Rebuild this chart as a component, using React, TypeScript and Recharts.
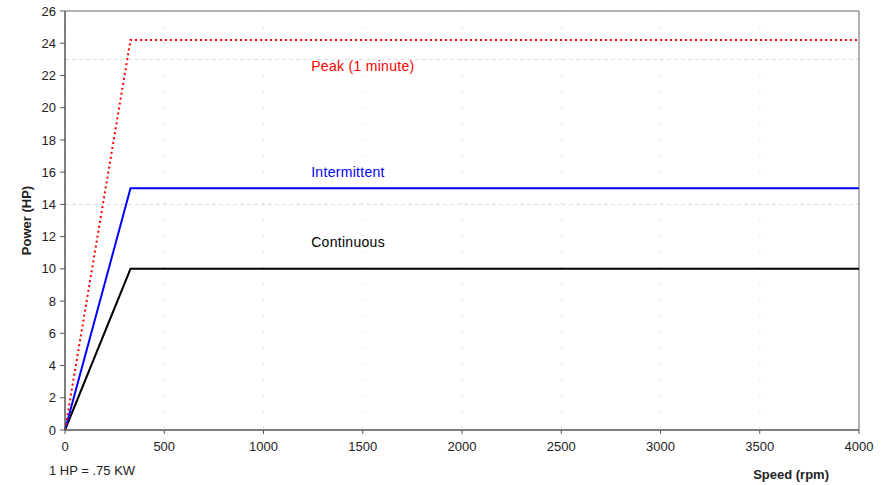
import React from 'react';
import { LineChart, Line, XAxis, YAxis, CartesianGrid, ReferenceLine, ReferenceDot, Label } from 'recharts';

const speeds = [0, 330, 4000];
const continuous = [0, 10, 10];
const intermittent = [0, 15, 15];
const peak = [0, 24.2, 24.2];
const xTicks = [0, 500, 1000, 1500, 2000, 2500, 3000, 3500, 4000];
const yTicks = [0, 2, 4, 6, 8, 10, 12, 14, 16, 18, 20, 22, 24, 26];
const dashedLevels = [14, 23];
const seriesLabels = [
  { text: 'Peak (1 minute)', x: 1215, y: 22.6, color: '#ff0000' },
  { text: 'Intermittent', x: 1215, y: 16.0, color: '#0000ff' },
  { text: 'Continuous', x: 1215, y: 11.65, color: '#000000' },
];

const data = speeds.map((s, i) => ({
  speed: s,
  continuous: continuous[i],
  intermittent: intermittent[i],
  peak: peak[i],
}));

const FONT = '"Liberation Sans", Arial, sans-serif';

const XLabel = (props: any) => {
  const vb = props.viewBox;
  return (
    <g>
      <text x={vb.x + vb.width - 30} y={vb.y + 49} textAnchor="end" fontSize={13} fontWeight="bold" fill="#222" fontFamily={FONT}>
        Speed (rpm)
      </text>
      <text x={vb.x - 16} y={vb.y + 45} textAnchor="start" fontSize={13} fill="#222" fontFamily={FONT}>
        1 HP = .75 KW
      </text>
    </g>
  );
};

const YLabel = (props: any) => {
  const vb = props.viewBox;
  const cx = vb.x + 26;
  const cy = vb.y + vb.height / 2;
  return (
    <text x={cx} y={cy} transform={`rotate(-90 ${cx} ${cy})`} textAnchor="middle" dominantBaseline="central" fontSize={13} fontWeight="bold" fill="#222" fontFamily={FONT}>
      Power (HP)
    </text>
  );
};

export default function App() {
  return (
    <div style={{ position: 'absolute', left: 0, top: 0 }}>
      <LineChart width={894} height={485} data={data} margin={{ top: 11, right: 35, bottom: 5, left: 0 }} style={{ fontFamily: FONT }}>
        <CartesianGrid horizontal={false} vertical stroke="#c8c8c8" strokeDasharray="1 15" />
        {dashedLevels.map((v) => (
          <ReferenceLine key={v} y={v} stroke="#dddddd" strokeDasharray="4 3" />
        ))}
        <ReferenceLine y={26} stroke="#999999" strokeWidth={1.5} />
        <ReferenceLine x={4000} stroke="#999999" strokeWidth={1.5} />
        <XAxis
          dataKey="speed"
          type="number"
          domain={[0, 4000]}
          ticks={xTicks}
          height={50}
          axisLine={{ stroke: '#555', strokeWidth: 1.5 }}
          tickLine={{ stroke: '#555' }}
          tickSize={4}
          tick={{ fontSize: 13, fill: '#222', fontFamily: FONT }}
          tickMargin={8}
        >
          <Label content={XLabel} />
        </XAxis>
        <YAxis
          type="number"
          domain={[0, 26]}
          ticks={yTicks}
          width={65}
          axisLine={{ stroke: '#555', strokeWidth: 1.5 }}
          tickLine={{ stroke: '#555' }}
          tickSize={5}
          tick={{ fontSize: 13, fill: '#222', fontFamily: FONT }}
          tickMargin={4}
          interval={0}
        >
          <Label content={YLabel} />
        </YAxis>
        <Line dataKey="continuous" stroke="#000000" strokeWidth={2} dot={false} isAnimationActive={false} />
        <Line dataKey="intermittent" stroke="#0000ff" strokeWidth={2} dot={false} isAnimationActive={false} />
        <Line dataKey="peak" stroke="#ff0000" strokeWidth={2} strokeDasharray="2 3" dot={false} isAnimationActive={false} />
        {seriesLabels.map((l) => (
          <ReferenceDot
            key={l.text}
            x={l.x}
            y={l.y}
            r={0}
            fill="none"
            stroke="none"
            label={{ value: l.text, position: 'right', offset: 5, fill: l.color, fontSize: 14, letterSpacing: 0.3, fontFamily: FONT }}
          />
        ))}
      </LineChart>
    </div>
  );
}
